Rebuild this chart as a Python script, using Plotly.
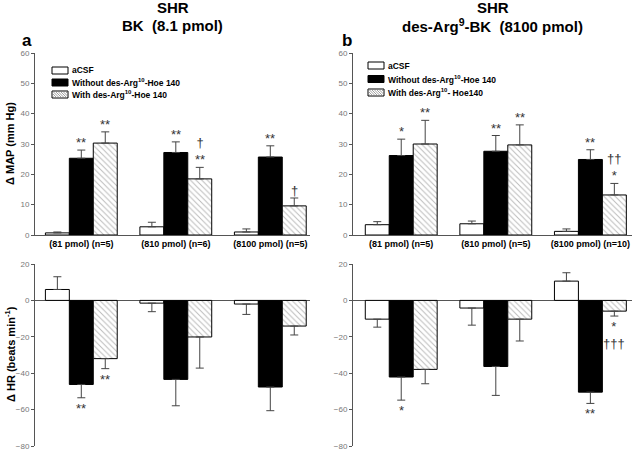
import plotly.graph_objects as go

# dose groups (x categories)
groups_a = ["(81 pmol) (n=5)", "(810 pmol) (n=6)", "(8100 pmol) (n=5)"]
groups_b = ["(81 pmol) (n=5)", "(810 pmol) (n=5)", "(8100 pmol) (n=10)"]

# panel a, BK -- delta MAP (mm Hg), mean and SEM
map_a_csf = [0.7, 2.7, 1.0]
map_a_csf_err = [0.3, 1.5, 1.0]
map_a_without = [25.3, 27.2, 25.7]
map_a_without_err = [2.7, 3.5, 3.7]
map_a_with = [30.3, 18.5, 9.6]
map_a_with_err = [3.7, 3.8, 2.6]

# panel a -- delta HR (beats/min)
hr_a_csf = [6.0, -1.5, -2.0]
hr_a_csf_err = [7.0, 4.7, 5.7]
hr_a_without = [-46.2, -43.4, -47.6]
hr_a_without_err = [7.3, 14.5, 13.0]
hr_a_with = [-32.0, -20.1, -14.1]
hr_a_with_err = [5.5, 17.1, 4.9]

# panel b, des-Arg9-BK -- delta MAP
map_b_csf = [3.4, 3.7, 1.2]
map_b_csf_err = [1.0, 0.9, 0.8]
map_b_without = [26.2, 27.6, 24.9]
map_b_without_err = [5.4, 5.2, 3.2]
map_b_with = [30.0, 29.7, 13.2]
map_b_with_err = [7.8, 6.6, 3.8]

# panel b -- delta HR
hr_b_csf = [-10.3, -4.2, 10.6]
hr_b_csf_err = [4.4, 9.4, 4.6]
hr_b_without = [-42.1, -36.3, -50.4]
hr_b_without_err = [12.7, 15.9, 6.2]
hr_b_with = [-37.9, -10.3, -5.9]
hr_b_with_err = [7.9, 12.0, 2.7]

# significance marks: (series index, group index, text)
sig_map_a = [(1, 0, "**"), (2, 0, "**"), (1, 1, "**"), (2, 1, "†<br>**"), (1, 2, "**"), (2, 2, "†")]
sig_map_b = [(1, 0, "*"), (2, 0, "**"), (1, 1, "**"), (2, 1, "**"), (1, 2, "**"), (2, 2, "††<br>*")]
sig_hr_a = [(1, 0, "**"), (2, 0, "**")]
sig_hr_b = [(1, 0, "*"), (1, 2, "**"), (2, 2, "*<br>†††")]

names_a = ["aCSF", "Without des-Arg<sup>10</sup>-Hoe 140", "With des-Arg<sup>10</sup>-Hoe 140"]
names_b = ["aCSF", "Without des-Arg<sup>10</sup>-Hoe 140", "With des-Arg<sup>10</sup>- Hoe140"]

FONT = "Liberation Sans, Arial, sans-serif"
BARGAP = 0.24
idx = [0, 1, 2]
W, H = 640, 451

styles = [
    dict(color="white", line=dict(color="black", width=1)),
    dict(color="black", line=dict(color="black", width=1)),
    dict(color="white", line=dict(color="black", width=1),
         pattern=dict(shape="\\", fgcolor="#777", bgcolor="white", size=4, solidity=0.25)),
]

fig = go.Figure()


def add_panel(series, errs, xa, ya, labels):
    for k, (vals, err) in enumerate(zip(series, errs)):
        plus = [e if v >= 0 else 0 for v, e in zip(vals, err)]
        minus = [e if v < 0 else 0 for v, e in zip(vals, err)]
        fig.add_trace(go.Bar(
            x=idx, y=vals, name=labels[k], marker=styles[k],
            offsetgroup=str(k), xaxis=xa, yaxis=ya, showlegend=False,
            error_y=dict(type="data", symmetric=False, array=plus, arrayminus=minus,
                         color="#444", thickness=1, width=4),
        ))


def add_sig(marks, series, errs, xa, ya):
    w = (1 - BARGAP) / 3
    for k, g, txt in marks:
        v = series[k][g]
        e = errs[k][g]
        up = v >= 0
        fig.add_annotation(
            x=g + (k - 1) * w, y=v + e if up else v - e, xref=xa, yref=ya,
            text=txt, showarrow=False, yanchor="bottom" if up else "top",
            yshift=-2 if up else -1,
            font=dict(family=FONT, size=13, color="#333"))


def px(x):
    return x / W


def py(y):
    return 1 - y / H


# hand-drawn legend (swatches are wide flat boxes, rows tighter than plotly's legend allows)
def add_legend(x0, rows, labels):
    bw, bh = 16, 7
    for k, (yc, lab) in enumerate(zip(rows, labels)):
        fill = "black" if k == 1 else "white"
        fig.add_shape(type="rect", xref="paper", yref="paper",
                      x0=px(x0), x1=px(x0 + bw), y0=py(yc + bh / 2), y1=py(yc - bh / 2),
                      fillcolor=fill, line=dict(color="black", width=1), layer="above")
        if k == 2:
            segs = []
            top, bot = yc - bh / 2, yc + bh / 2
            s = -bh
            while s < bw:
                xa, ya_ = x0 + s, top
                xb, yb_ = x0 + s + bh, bot
                if xa < x0:
                    ya_ = top + (x0 - xa)
                    xa = x0
                if xb > x0 + bw:
                    yb_ = bot - (xb - x0 - bw)
                    xb = x0 + bw
                if xb > xa:
                    segs.append("M%.4f,%.4f L%.4f,%.4f" % (px(xa), py(ya_), px(xb), py(yb_)))
                s += 2.5
            fig.add_shape(type="path", xref="paper", yref="paper", path=" ".join(segs),
                          line=dict(color="#888", width=0.8), layer="above")
        fig.add_annotation(x=px(x0 + bw + 2), y=py(yc), xref="paper", yref="paper",
                           text="<b>%s</b>" % lab, showarrow=False, xanchor="left",
                           yanchor="middle", font=dict(family=FONT, size=8.5, color="black"))


add_panel([map_a_csf, map_a_without, map_a_with],
          [map_a_csf_err, map_a_without_err, map_a_with_err], "x", "y", names_a)
add_panel([hr_a_csf, hr_a_without, hr_a_with],
          [hr_a_csf_err, hr_a_without_err, hr_a_with_err], "x3", "y3", names_a)
add_panel([map_b_csf, map_b_without, map_b_with],
          [map_b_csf_err, map_b_without_err, map_b_with_err], "x2", "y2", names_b)
add_panel([hr_b_csf, hr_b_without, hr_b_with],
          [hr_b_csf_err, hr_b_without_err, hr_b_with_err], "x4", "y4", names_b)

add_sig(sig_map_a, [map_a_csf, map_a_without, map_a_with],
        [map_a_csf_err, map_a_without_err, map_a_with_err], "x", "y")
add_sig(sig_map_b, [map_b_csf, map_b_without, map_b_with],
        [map_b_csf_err, map_b_without_err, map_b_with_err], "x2", "y2")
add_sig(sig_hr_a, [hr_a_csf, hr_a_without, hr_a_with],
        [hr_a_csf_err, hr_a_without_err, hr_a_with_err], "x3", "y3")
add_sig(sig_hr_b, [hr_b_csf, hr_b_without, hr_b_with],
        [hr_b_csf_err, hr_b_without_err, hr_b_with_err], "x4", "y4")

add_legend(52, [70.5, 82.5, 94.5], names_a)
add_legend(368, [65.5, 79, 92.5], names_b)

xl = [px(35), px(310)]
xr = [px(353), px(632)]
yt = [py(235), py(53)]
yb = [py(446), py(264)]
tickfont = dict(family=FONT, size=8, color="#777")

common_y = dict(showline=True, linecolor="#555", linewidth=1, ticks="outside", ticklen=3,
                tickcolor="#555", tickfont=tickfont, showgrid=False, automargin=False)
common_xt = dict(showline=True, linecolor="#555", linewidth=1, ticks="",
                 tickvals=idx, showgrid=False, zeroline=False, automargin=False,
                 tickfont=dict(family=FONT, size=9, color="black"))
common_xb = dict(visible=False, automargin=False)

fig.update_layout(
    width=W, height=H,
    margin=dict(l=0, r=0, t=0, b=0),
    paper_bgcolor="white", plot_bgcolor="white",
    barmode="group", bargap=BARGAP, bargroupgap=0,
    font=dict(family=FONT, color="black"),
    xaxis=dict(domain=xl, anchor="y", range=[-0.49, 2.42],
               ticktext=["<b>%s</b>" % g for g in groups_a], **common_xt),
    yaxis=dict(domain=yt, anchor="x", range=[0, 60], dtick=10, zeroline=False, **common_y),
    xaxis2=dict(domain=xr, anchor="y2", range=[-0.51, 2.44],
                ticktext=["<b>%s</b>" % g for g in groups_b], **common_xt),
    yaxis2=dict(domain=yt, anchor="x2", range=[0, 60], dtick=10, zeroline=False, **common_y),
    xaxis3=dict(domain=xl, anchor="y3", range=[-0.49, 2.42], **common_xb),
    yaxis3=dict(domain=yb, anchor="x3", range=[-80, 20], dtick=20,
                zeroline=True, zerolinecolor="#555", zerolinewidth=1, **common_y),
    xaxis4=dict(domain=xr, anchor="y4", range=[-0.51, 2.44], **common_xb),
    yaxis4=dict(domain=yb, anchor="x4", range=[-80, 20], dtick=20,
                zeroline=True, zerolinecolor="#555", zerolinewidth=1, **common_y),
)

# axis titles
for y, t in [(144, "<b>Δ MAP (mm Hg)</b>"), (354, "<b>Δ HR (beats min<sup>-1</sup>)</b>")]:
    fig.add_annotation(x=px(10), y=py(y), xref="paper", yref="paper", text=t, showarrow=False,
                       textangle=-90, xanchor="center", yanchor="middle",
                       font=dict(family=FONT, size=11, color="black"))

# panel titles and letters
titles = [
    (173, 8, "<b>SHR</b>"), (172, 26, "<b>BK  (8.1 pmol)</b>"),
    (493, 8, "<b>SHR</b>"), (492, 26, "<b>des-Arg<sup>9</sup>-BK  (8100 pmol)</b>"),
]
for x, y, t in titles:
    fig.add_annotation(x=px(x), y=py(y), xref="paper", yref="paper", text=t, showarrow=False,
                       xanchor="center", yanchor="middle", font=dict(family=FONT, size=15))
for x, t in [(27, "<b>a</b>"), (347, "<b>b</b>")]:
    fig.add_annotation(x=px(x), y=py(40), xref="paper", yref="paper", text=t, showarrow=False,
                       xanchor="center", yanchor="middle", font=dict(family=FONT, size=17))

# drop the default page margin so the 640x451 figure sits at the window's corner
fig.write_html("out.html", config={"displayModeBar": False},
               post_script="document.body.style.margin='0';document.body.style.overflow='hidden';")
